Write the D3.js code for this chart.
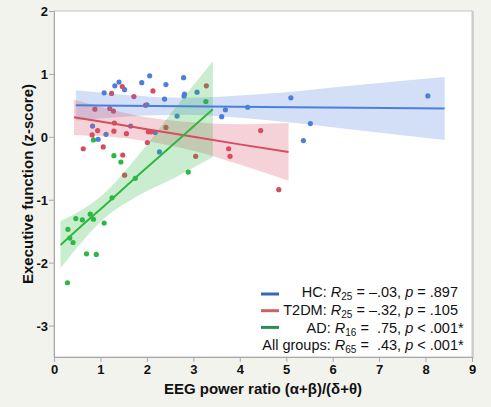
<!DOCTYPE html>
<head>
  <meta charset="utf-8">
  <style>
    body { margin: 0; background: #f3f3ee; }
    svg { display: block; }
    text { font-family: 'Liberation Sans', Arial, sans-serif; fill: #111; }
    .axis text { font-size: 13px; font-weight: bold; }
    .axis line { stroke: #a8a8a8; }
    .legend text { font-size: 14.5px; white-space: pre; }
  </style>
</head>

<body>
  <script src="https://cdn.jsdelivr.net/npm/d3@7"></script>

  <script>
    const width = 491;
    const height = 407;
    const margin = {top: 11, right: 19, bottom: 50, left: 54};
    const innerWidth = width - margin.left - margin.right;
    const innerHeight = height - margin.top - margin.bottom;

    // scatter values per group
    const hcX = [1.08, 1.31, 1.40, 1.52, 1.89, 2.06, 2.41, 2.79, 2.81, 2.80, 3.08, 2.38, 2.00, 2.65,
                 3.69, 3.61, 4.17, 0.83, 1.12, 0.95, 1.65, 2.18, 2.27, 5.10, 8.05, 5.52, 5.37];
    const hcY = [0.70, 0.81, 0.87, 0.75, 0.86, 0.97, 0.83, 0.94, 0.68, 0.65, 0.71, 0.60, 0.51, 0.33,
                 0.43, 0.32, 0.47, 0.17, 0.04, -0.04, 0.17, 0.07, -0.24, 0.62, 0.65, 0.21, -0.06];
    const t2X = [0.63, 0.88, 0.82, 0.94, 1.06, 1.24, 1.47, 1.20, 1.28, 1.30, 1.29, 1.56, 1.72, 2.13,
                 1.97, 2.03, 2.09, 2.01, 2.41, 3.28, 1.48, 1.52, 3.05, 3.76, 3.79, 4.45, 4.84];
    const t2Y = [-0.19, 0.44, 0.03, 0.10, -0.16, 0.69, 0.80, 0.45, 0.41, 0.22, 0.09, 0.05, 0.64, 0.73,
                 0.50, 0.08, 0.08, -0.09, 0.15, 0.81, -0.29, -0.61, -0.31, -0.19, -0.31, 0.10, -0.84];
    const adX = [0.85, 1.29, 1.44, 3.27, 2.89, 1.75, 1.25, 0.30, 0.34, 0.41, 0.47, 0.61, 0.78, 0.85,
                 1.08, 0.70, 0.91, 0.29];
    const adY = [-0.05, -0.30, -0.40, 0.56, -0.56, -0.66, -0.97, -1.47, -1.61, -1.68, -1.30, -1.32,
                 -1.23, -1.31, -1.37, -1.86, -1.87, -2.32];

    // fit lines and confidence bands (read at a few x positions)
    const hcFitX = [0.47, 1.5, 2.8, 4.5, 6.5, 8.41];
    const hcFitY = [0.50, 0.493, 0.485, 0.475, 0.462, 0.45];
    const hcHi = [0.74, 0.67, 0.62, 0.68, 0.82, 0.95];
    const hcLo = [0.26, 0.32, 0.35, 0.27, 0.11, -0.05];
    const t2FitX = [0.43, 1.2, 2.0, 3.0, 4.0, 5.05];
    const t2FitY = [0.31, 0.22, 0.12, 0.00, -0.12, -0.24];
    const t2Hi = [0.59, 0.44, 0.31, 0.23, 0.20, 0.22];
    const t2Lo = [0.03, 0.00, -0.07, -0.22, -0.44, -0.70];
    const adFitX = [0.14, 0.6, 1.08, 1.8, 2.6, 3.42];
    const adFitY = [-1.72, -1.41, -1.10, -0.62, -0.10, 0.44];
    const adHi = [-1.34, -1.16, -0.90, -0.31, 0.45, 1.20];
    const adLo = [-2.09, -1.67, -1.30, -0.94, -0.65, -0.32];

    const xTicks = [0, 1, 2, 3, 4, 5, 6, 7, 8, 9];
    const yTicks = [-3, -2, -1, 0, 1, 2];

    const legendLabels = [
      {name: "HC: ", sub: "25", val: " = –.03, ", op: " = .897", star: ""},
      {name: "T2DM: ", sub: "25", val: " = –.32, ", op: " = .105", star: ""},
      {name: "AD: ", sub: "16", val: " =  .75, ", op: " < .001", star: "*"},
      {name: "All groups: ", sub: "65", val: " =  .43, ", op: " < .001", star: "*"}
    ];
    const swatchColors = ["#2f6db0", "#d0605f", "#2e8b57"];

    const groups = [
      {xs: hcX, ys: hcY, fx: hcFitX, fy: hcFitY, hi: hcHi, lo: hcLo, color: "#4a80dc"},
      {xs: t2X, ys: t2Y, fx: t2FitX, fy: t2FitY, hi: t2Hi, lo: t2Lo, color: "#d84c5f"},
      {xs: adX, ys: adY, fx: adFitX, fy: adFitY, hi: adHi, lo: adLo, color: "#2db843"}
    ];

    const svg = d3.select("body").append("svg")
      .attr("width", width)
      .attr("height", height);

    const g = svg.append("g")
      .attr("transform", "translate(" + margin.left + "," + margin.top + ")");

    const xScale = d3.scaleLinear().domain([0, 9]).range([0, innerWidth]);
    const yScale = d3.scaleLinear().domain([-3.5, 2]).range([innerHeight, 0]);

    // plot background + frame shadow
    g.append("rect")
      .attr("x", 1).attr("y", 0)
      .attr("width", innerWidth + 1).attr("height", innerHeight + 1)
      .attr("fill", "#d2d2d0");
    g.append("rect")
      .attr("width", innerWidth).attr("height", innerHeight)
      .attr("fill", "white")
      .attr("stroke", "#c4c4c4");

    // points first, bands laid over them, lines on top
    groups.forEach(grp => {
      g.append("g").selectAll("circle")
        .data(grp.xs.map((x, i) => [x, grp.ys[i]]))
        .join("circle")
        .attr("cx", d => xScale(d[0]))
        .attr("cy", d => yScale(d[1]))
        .attr("r", 2.6)
        .attr("fill", grp.color);
    });

    const area = d3.area()
      .x(d => xScale(d.x))
      .y0(d => yScale(d.lo))
      .y1(d => yScale(d.hi))
      .curve(d3.curveMonotoneX);

    groups.forEach(grp => {
      g.append("path")
        .datum(grp.fx.map((x, i) => ({x: x, lo: grp.lo[i], hi: grp.hi[i]})))
        .attr("d", area)
        .attr("fill", grp.color)
        .attr("fill-opacity", 0.25);
    });

    const line = d3.line()
      .x(d => xScale(d[0]))
      .y(d => yScale(d[1]));

    groups.forEach(grp => {
      g.append("path")
        .datum(grp.fx.map((x, i) => [x, grp.fy[i]]))
        .attr("d", line)
        .attr("fill", "none")
        .attr("stroke", grp.color)
        .attr("stroke-width", 2);
    });

    //-----------------------------AXES-----------------------------//
    const xAxis = d3.axisBottom(xScale).tickValues(xTicks).tickFormat(d => String(d))
      .tickSize(5).tickSizeOuter(0).tickPadding(3);
    const yAxis = d3.axisLeft(yScale).tickValues(yTicks).tickFormat(d => String(d))
      .tickSize(5).tickSizeOuter(0).tickPadding(1);

    g.append("g")
      .attr("class", "axis")
      .attr("transform", "translate(0," + innerHeight + ")")
      .call(xAxis)
      .call(a => a.select(".domain").attr("stroke", "#a8a8a8"));

    g.append("g")
      .attr("class", "axis")
      .call(yAxis)
      .call(a => a.select(".domain").attr("stroke", "#a8a8a8"))
      .selectAll(".tick text").attr("dy", "0.35em");

    svg.append("text")
      .attr("x", margin.left + innerWidth / 2)
      .attr("y", 394)
      .attr("text-anchor", "middle")
      .style("font-size", "15px")
      .style("font-weight", "bold")
      .text("EEG power ratio (α+β)/(δ+θ)");

    svg.append("text")
      .attr("transform", "translate(33," + (margin.top + innerHeight / 2) + ") rotate(-90)")
      .attr("text-anchor", "middle")
      .style("font-size", "15px")
      .style("font-weight", "bold")
      .text("Executive function (z-score)");

    //----------------------------LEGEND----------------------------//
    const legend = svg.append("g").attr("class", "legend");
    const legendRight = 458;

    swatchColors.forEach((c, i) => {
      legend.append("line")
        .attr("x1", 261).attr("x2", 279)
        .attr("y1", 294 + i * 16.7).attr("y2", 294 + i * 16.7)
        .attr("stroke", c)
        .attr("stroke-width", 3);
    });

    legendLabels.forEach((d, i) => {
      const yb = 297.3 + i * 17.6;
      const t = legend.append("text")
        .attr("x", legendRight)
        .attr("y", yb)
        .attr("text-anchor", "end");
      t.append("tspan").text(d.name);
      t.append("tspan").style("font-style", "italic").text("R");
      t.append("tspan").attr("dy", 3).style("font-size", "10px").text(d.sub);
      t.append("tspan").attr("dy", -3).text(d.val);
      t.append("tspan").style("font-style", "italic").text("p");
      t.append("tspan").text(d.op);
      legend.append("text")
        .attr("x", legendRight)
        .attr("y", yb)
        .text(d.star);
    });
  </script>
</body>
